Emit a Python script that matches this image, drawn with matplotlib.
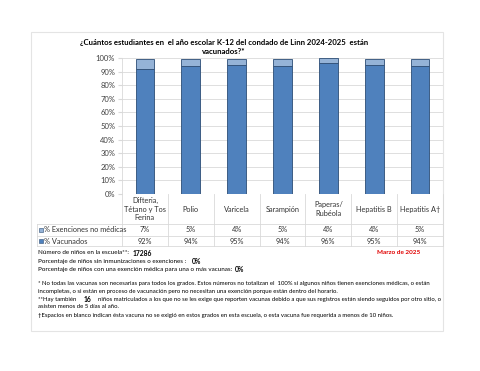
import matplotlib
matplotlib.use("Agg")
import matplotlib.pyplot as plt
from matplotlib.patches import Rectangle

plt.rcParams["font.family"] = ["Lato", "DejaVu Sans"]

categories = ["Difteria,\nTétano y Tos\nFerina", "Polio", "Varicela", "Sarampión",
              "Paperas/\nRubéola", "Hepatitis B", "Hepatitis A†"]
vacunados = [92, 94, 95, 94, 96, 95, 94]
exenciones = [7, 5, 4, 5, 4, 4, 5]
row_labels = ["% Exenciones no médicas", "% Vacunados"]
yticks = [0, 10, 20, 30, 40, 50, 60, 70, 80, 90, 100]

c_vac = "#4F81BD"
c_exe = "#95B3D7"
edge = "#2C4D75"

W, H = 480, 371
fig = plt.figure(figsize=(4.8, 3.71), dpi=100)
renderer = fig.canvas.get_renderer()

def fx(x):
    return x / W

def fy(y):
    return 1 - y / H

def line_of(x, y, parts, fs):
    # parts: list of (text, bold, size, gap_px)
    cur = x
    for txt, bold, size, gap in parts:
        cur += gap
        t = fig.text(fx(cur), fy(y), txt, ha="left", va="center", fontsize=size or fs,
                     fontweight="bold" if bold else "normal", color="black")
        cur += t.get_window_extent(renderer).width

# outer frame
fig.patches.append(Rectangle((fx(31), fy(331)), fx(443) - fx(31), fy(32) - fy(331),
                             transform=fig.transFigure, fill=False, ec="#E4E4E4", lw=0.8))

x0, x1, ytop, ybot = 122, 443, 58, 194
ax = fig.add_axes([fx(x0), fy(ybot), fx(x1) - fx(x0), fy(ytop) - fy(ybot)])
xs = list(range(len(categories)))
ax.bar(xs, vacunados, width=0.41, color=c_vac, edgecolor=edge, lw=0.6, zorder=3)
ax.bar(xs, exenciones, bottom=vacunados, width=0.41, color=c_exe, edgecolor=edge, lw=0.6, zorder=3)
ax.set_xlim(-0.5, len(categories) - 0.5)
ax.set_ylim(0, 100)
ax.set_yticks(yticks)
ax.set_yticklabels([f"{t}%" for t in yticks], fontsize=5.5, color="#404040")
ax.tick_params(axis="y", length=3, color="#D9D9D9", pad=2)
ax.set_xticks([])
ax.grid(axis="y", color="#D9D9D9", lw=0.6, zorder=0)
for s in ["top", "right", "bottom"]:
    ax.spines[s].set_visible(False)
ax.spines["left"].set_color("#D9D9D9")
ax.spines["left"].set_linewidth(0.6)

fig.text(fx(224), fy(42), "¿Cuántos estudiantes en  el año escolar K-12 del condado de Linn 2024-2025  están",
         ha="center", va="center", fontsize=5.6, fontweight="bold")
fig.text(fx(224), fy(52), "vacunados?*", ha="center", va="center", fontsize=5.6, fontweight="bold")

# data table
cw = (x1 - x0) / len(categories)
line_kw = dict(color="#D9D9D9", lw=0.6, transform=fig.transFigure)
for i in range(len(categories) + 1):
    xx = fx(x0 + i * cw)
    fig.add_artist(plt.Line2D([xx, xx], [fy(194), fy(246)], **line_kw))
for yy in [224, 236, 246]:
    fig.add_artist(plt.Line2D([fx(37), fx(x1)], [fy(yy), fy(yy)], **line_kw))
fig.add_artist(plt.Line2D([fx(37), fx(37)], [fy(224), fy(246)], **line_kw))

for i, cat in enumerate(categories):
    cx = fx(x0 + (i + 0.5) * cw)
    fig.text(cx, fy(209), cat, ha="center", va="center", fontsize=5.3, color="#333333", linespacing=1.25)
    fig.text(cx, fy(230), f"{exenciones[i]}%", ha="center", va="center", fontsize=5.3, color="#333333")
    fig.text(cx, fy(241), f"{vacunados[i]}%", ha="center", va="center", fontsize=5.3, color="#333333")

for yy, lab, col in [(230, row_labels[0], c_exe), (241, row_labels[1], c_vac)]:
    fig.patches.append(Rectangle((fx(38.5), fy(yy + 2)), fx(4), fy(0) - fy(4),
                                 transform=fig.transFigure, fc=col, ec=edge, lw=0.4))
    fig.text(fx(44), fy(yy), lab, ha="left", va="center", fontsize=5.3, color="#333333")

# notes
fs = 4.35
line_of(38, 253, [("Número de niños en la escuela**:", False, 4.5, 0), ("17286", True, 4.9, 4)], fs)
fig.text(fx(377), fy(253), "Marzo de 2025", ha="left", va="center", fontsize=4.6,
         fontweight="bold", color="#E00000")
line_of(38, 262, [("Porcentaje de niños sin inmunizaciones o exenciones :", False, 4.5, 0),
                  ("0%", True, 4.9, 6)], fs)
line_of(38, 270, [("Porcentaje de niños con una exención médica para una o más vacunas:", False, 4.5, 0),
                  ("0%", True, 4.9, 3)], fs)

line_of(38, 283, [("* No todas las vacunas son necesarias para todos los grados. Estos números no totalizan el  100% "
                   "si algunos niños tienen exenciones médicas, o están", False, None, 0)], fs)
line_of(38, 291, [("incompletas, o si están en proceso de vacunación pero no necesitan una exención porque están "
                   "dentro del horario.", False, None, 0)], fs)
line_of(38, 299, [("**Hay también", False, None, 0), ("16", True, 4.9, 7),
                  ("niños matriculados a los que no se les exige que reporten vacunas debido a que sus registros "
                   "están siendo seguidos por otro sitio, o", False, None, 7)], fs)
line_of(38, 307, [("asisten menos de 5 días al año.", False, None, 0)], fs)
line_of(38, 315, [("†Espacios en blanco indican ésta vacuna no se exigió en estos grados en esta escuela, o esta "
                   "vacuna fue requerida a menos de 10 niños.", False, None, 0)], fs)

fig.savefig("out.png", dpi=100)
